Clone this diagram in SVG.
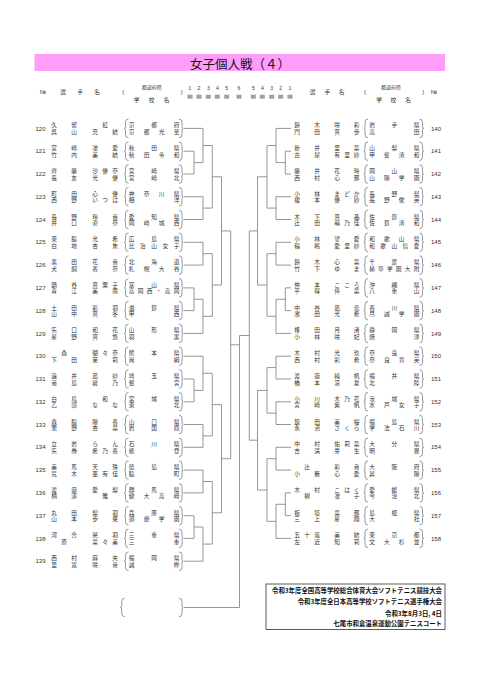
<svg xmlns="http://www.w3.org/2000/svg" xmlns:xlink="http://www.w3.org/1999/xlink" width="480" height="679" viewBox="0 0 480 679">
<style>
.n{font-family:"Liberation Sans","Noto Sans CJK JP","Noto Sans CJK SC",sans-serif;font-size:5.7px;fill:#333;text-anchor:middle}
.hs{font-family:"Liberation Sans","Noto Sans CJK JP","Noto Sans CJK SC",sans-serif;font-size:5px;fill:#333;text-anchor:middle}
.num{font-family:"Liberation Sans",Arial,sans-serif;font-size:6px;fill:#333;text-anchor:middle}
.br{fill:none;stroke:#555;stroke-width:0.6}
.ln{fill:none;stroke:#8a8a8a;stroke-width:0.9}
.ft{font-family:"Noto Sans CJK JP","Noto Sans CJK SC",sans-serif;font-size:6.4px;font-weight:bold;fill:#111;text-anchor:end}
.bx{fill:#a0a0a0}
</style>
<defs>
<path id="lp" class="br" d="M3,-9.3 Q0,-9.3 0,-6 L0,-1.8 Q0,0 -1.2,0 Q0,0 0,1.8 L0,6 Q0,9.3 3,9.3"/>
<path id="rp" class="br" d="M-3,-9.3 Q0,-9.3 0,-6 L0,-1.8 Q0,0 1.2,0 Q0,0 0,1.8 L0,6 Q0,9.3 -3,9.3"/>
</defs>
<rect width="480" height="679" fill="#fff"/>
<g id="title">
<rect x="34.5" y="54" width="410.5" height="17" fill="#ff9dfa"/>
<text x="240" y="68.5" style="font-family:'Noto Sans CJK JP','Noto Sans CJK SC',sans-serif;font-size:12.5px;fill:#111;text-anchor:middle">女子個人戦（４）</text>
</g>
<g id="header">
<text class="num" x="43" y="94">№</text>
<text class="n" x="63 80 97" y="94">選手名</text>
<text class="num" x="123.3" y="94">(</text>
<text class="hs" x="151.7" y="89">都道府県</text>
<text class="n" x="136.7 151.7 166.7" y="102">学校名</text>
<text class="num" x="181.7" y="94">)</text>
<text class="hs" x="190 199 208.3 217.3 226.7 239 253.3 262.3 271.7 280.7 290" y="90">12345654321</text>
<rect class="bx" x="187.5" y="94.7" width="5" height="4"/><rect class="bx" x="196.5" y="94.7" width="5" height="4"/><rect class="bx" x="205.8" y="94.7" width="5" height="4"/><rect class="bx" x="214.8" y="94.7" width="5" height="4"/><rect class="bx" x="224.2" y="94.7" width="5" height="4"/><rect class="bx" x="236.5" y="94.7" width="5" height="4"/><rect class="bx" x="250.8" y="94.7" width="5" height="4"/><rect class="bx" x="259.8" y="94.7" width="5" height="4"/><rect class="bx" x="269.2" y="94.7" width="5" height="4"/><rect class="bx" x="278.2" y="94.7" width="5" height="4"/><rect class="bx" x="287.5" y="94.7" width="5" height="4"/>
<text class="n" x="312.7 327.3 341.7" y="94">選手名</text>
<text class="num" x="365" y="94">(</text>
<text class="hs" x="391" y="89">都道府県</text>
<text class="n" x="379 393.3 408" y="102">学校名</text>
<text class="num" x="423.3" y="94">)</text>
<text class="num" x="434" y="94">№</text>
</g>
<g id="connectors" class="ln">
<path d="M184,128.4H203M184,151.2H194V174H184M194,162.6H203M203,128.4V162.6M203,145.5H212.3M184,196.7H203V219.5H184M203,208.1H212.3M212.3,145.5V208.1M212.3,176.8H221.5M184,242.3H203V265.1H184M203,253.7H212.3M184,287.9H194V310.6H184M194,299.25H203M184,333.4H203V299.25M203,316.3H212.3M212.3,253.7V316.3M212.3,285H221.5M221.5,176.8V285M221.5,230.9H230.7"/>
<path d="M184,356.2H203V390.4M184,379H194V401.8H184M194,390.4H203M203,373.3H212.3M184,424.5H203V447.3H184M203,435.9H212.3M212.3,373.3V435.9M212.3,404.6H221.5M184,470.1H203V492.9H184M203,481.5H212.3M184,515.7H194V538.4H184M194,527.05H203M184,561.2H203V527.05M203,544.1H212.3M212.3,481.5V544.1M212.3,512.8H221.5M221.5,404.6V512.8M221.5,458.7H230.7M230.7,230.9V458.7M230.7,344.8H239.5"/>
<path d="M249.3,335.5H239.5V607.5H184"/>
<path d="M291,128.4H276V162.6M291,151.2H285.3V174H291M285.3,162.6H276M276,145.5H267M291,196.7H276V219.5H291M276,208.1H267M267,145.5V208.1M267,176.8H257.5M291,242.3H276V265.1H291M276,253.7H267M291,287.9H285.3V310.6H291M285.3,299.25H276M291,333.4H276V299.25M276,316.3H267M267,253.7V316.3M267,285H257.5M257.5,176.8V285M257.5,230.9H249.3"/>
<path d="M291,356.2H276V379H291M276,367.6H267M291,401.8H276V424.5H291M276,413.15H267M267,367.6V413.15M267,390.4H257.5M291,447.3H276V470.1H291M276,458.7H267M291,492.9H285.3V515.7H291M285.3,504.3H276M291,538.4H276V504.3M276,521.35H267M267,458.7V521.35M267,490H257.5M257.5,390.4V490M257.5,440.2H249.3M249.3,230.9V440.2"/>
</g>
<g id="p120" transform="translate(0,128.4)"><text class="num" x="40.5" y="2.1">120</text><text class="n" x="54 74 105" y="-1">久留紅</text><text class="n" x="54 74 95 115" y="5.5">呉山充結</text><use href="#lp" x="125.5"/><text class="n" x="131.5 154 176.5" y="-1">京都府</text><text class="n" x="131.5 146.5 161.5 176.5" y="5.5">京都光華</text><use href="#rp" x="182"/></g>
<g id="p121" transform="translate(0,151.2)"><text class="num" x="40.5" y="2.1">121</text><text class="n" x="54 74 95 115" y="-1">宮崎凜愛</text><text class="n" x="54 74 95 115" y="5.5">竹内美結</text><use href="#lp" x="125.5"/><text class="n" x="131.5 154 176.5" y="-1">秋田県</text><text class="n" x="131.5 146.5 161.5 176.5" y="5.5">秋田令和</text><use href="#rp" x="182"/></g>
<g id="p122" transform="translate(0,174)"><text class="num" x="40.5" y="2.1">122</text><text class="n" x="54 74 95 105 115" y="-1">齊藤沙優奈</text><text class="n" x="54 74 95 115" y="5.5">長友光優</text><use href="#lp" x="125.5"/><text class="n" x="131.5 154 176.5" y="-1">宮崎県</text><text class="n" x="131.5 154 176.5" y="5.5">宮崎北</text><use href="#rp" x="182"/></g>
<g id="p123" transform="translate(0,196.7)"><text class="num" x="40.5" y="2.1">123</text><text class="n" x="54 74 95 115" y="-1">町田心優</text><text class="n" x="54 74 95 105 115" y="5.5">西野いつは</text><use href="#lp" x="125.5"/><text class="n" x="131.5 146.5 161.5 176.5" y="-1">神奈川県</text><text class="n" x="131.5 176.5" y="5.5">相洋</text><use href="#rp" x="182"/></g>
<g id="p124" transform="translate(0,219.5)"><text class="num" x="40.5" y="2.1">124</text><text class="n" x="54 74 95 115" y="-1">長野玲音</text><text class="n" x="54 74 95 115" y="5.5">井口姿奈</text><use href="#lp" x="125.5"/><text class="n" x="131.5 154 176.5" y="-1">愛知県</text><text class="n" x="131.5 146.5 161.5 176.5" y="5.5">岡崎城西</text><use href="#rp" x="182"/></g>
<g id="p125" transform="translate(0,242.3)"><text class="num" x="40.5" y="2.1">125</text><text class="n" x="54 74 95 115" y="-1">東脇光希</text><text class="n" x="54 74 95 115" y="5.5">白地杏朱</text><use href="#lp" x="125.5"/><text class="n" x="131.5 154 176.5" y="-1">広島県</text><text class="n" x="131.5 142.75 154 165.25 176.5" y="5.5">比治山女子</text><use href="#rp" x="182"/></g>
<g id="p126" transform="translate(0,265.1)"><text class="num" x="40.5" y="2.1">126</text><text class="n" x="54 74 95 115" y="-1">黒田花音</text><text class="n" x="54 74 95 115" y="5.5">犬飼香奈</text><use href="#lp" x="125.5"/><text class="n" x="131.5 154 176.5" y="-1">北海道</text><text class="n" x="131.5 146.5 161.5 176.5" y="5.5">札幌大谷</text><use href="#rp" x="182"/></g>
<g id="p127" transform="translate(0,287.9)"><text class="num" x="40.5" y="2.1">127</text><text class="n" x="54 74 95 105 115" y="-1">鍋谷真粟子</text><text class="n" x="54 74 95 115" y="5.5">青江美南</text><use href="#lp" x="125.5"/><text class="n" x="131.5 154 176.5" y="-1">富山県</text><text class="n" x="131.5 140.5 149.5 158.5 167.5 176.5" y="5.5">高岡西・高岡</text><use href="#rp" x="182"/></g>
<g id="p128" transform="translate(0,310.6)"><text class="num" x="40.5" y="2.1">128</text><text class="n" x="54 74 95 115" y="-1">土田彩羽</text><text class="n" x="54 74 95 115" y="5.5">山中真冬</text><use href="#lp" x="125.5"/><text class="n" x="131.5 154 176.5" y="-1">滋賀県</text><text class="n" x="131.5 176.5" y="5.5">甲西</text><use href="#rp" x="182"/></g>
<g id="p129" transform="translate(0,333.4)"><text class="num" x="40.5" y="2.1">129</text><text class="n" x="54 74 95 115" y="-1">矢口和花</text><text class="n" x="54 74 95 115" y="5.5">星野真悠</text><use href="#lp" x="125.5"/><text class="n" x="131.5 154 176.5" y="-1">山形県</text><text class="n" x="131.5 176.5" y="5.5">羽黒</text><use href="#rp" x="182"/></g>
<g id="p130" transform="translate(0,356.2)"><text class="num" x="40.5" y="2.1">130</text><text class="n" x="64 95 105 115" y="-1">森瑚々奈</text><text class="n" x="54 74 95 115" y="5.5">下田茉莉</text><use href="#lp" x="125.5"/><text class="n" x="131.5 154 176.5" y="-1">熊本県</text><text class="n" x="131.5 176.5" y="5.5">尚絅</text><use href="#rp" x="182"/></g>
<g id="p131" transform="translate(0,379)"><text class="num" x="40.5" y="2.1">131</text><text class="n" x="54 74 95 115" y="-1">遠井凪紗</text><text class="n" x="54 74 95 115" y="5.5">菊島綾乃</text><use href="#lp" x="125.5"/><text class="n" x="131.5 154 176.5" y="-1">埼玉県</text><text class="n" x="131.5 176.5" y="5.5">鷲宮</text><use href="#rp" x="182"/></g>
<g id="p132" transform="translate(0,401.8)"><text class="num" x="40.5" y="2.1">132</text><text class="n" x="54 74 105" y="-1">白鳥和</text><text class="n" x="54 74 95 115" y="5.5">乙部なな</text><use href="#lp" x="125.5"/><text class="n" x="131.5 154 176.5" y="-1">宮城県</text><text class="n" x="131.5 176.5" y="5.5">東北</text><use href="#rp" x="182"/></g>
<g id="p133" transform="translate(0,424.5)"><text class="num" x="40.5" y="2.1">133</text><text class="n" x="54 74 95 115" y="-1">森脇陽香</text><text class="n" x="54 74 95 115" y="5.5">栗野杏菜</text><use href="#lp" x="125.5"/><text class="n" x="131.5 154 176.5" y="-1">山口県</text><text class="n" x="131.5 154 176.5" y="5.5">岩国商</text><use href="#rp" x="182"/></g>
<g id="p134" transform="translate(0,447.3)"><text class="num" x="40.5" y="2.1">134</text><text class="n" x="54 74 95 115" y="-1">立岩らん</text><text class="n" x="54 74 95 105 115" y="5.5">矢巻希乃香</text><use href="#lp" x="125.5"/><text class="n" x="131.5 154 176.5" y="-1">石川県</text><text class="n" x="131.5 176.5" y="5.5">能登</text><use href="#rp" x="182"/></g>
<g id="p135" transform="translate(0,470.1)"><text class="num" x="40.5" y="2.1">135</text><text class="n" x="54 74 95 115" y="-1">美馬天珠</text><text class="n" x="54 74 95 105 115" y="5.5">荒木亜有佳</text><use href="#lp" x="125.5"/><text class="n" x="131.5 154 176.5" y="-1">徳島県</text><text class="n" x="131.5 176.5" y="5.5">脇町</text><use href="#rp" x="182"/></g>
<g id="p136" transform="translate(0,492.9)"><text class="num" x="40.5" y="2.1">136</text><text class="n" x="54 74 95 115" y="-1">渡邉愛梨</text><text class="n" x="54 74 105" y="5.5">柄澤雅</text><use href="#lp" x="125.5"/><text class="n" x="131.5 154 176.5" y="-1">群馬県</text><text class="n" x="131.5 146.5 161.5 176.5" y="5.5">健大高崎</text><use href="#rp" x="182"/></g>
<g id="p137" transform="translate(0,515.7)"><text class="num" x="40.5" y="2.1">137</text><text class="n" x="54 74 95 115" y="-1">丸田梨羽</text><text class="n" x="54 74 95 115" y="5.5">山本歩果</text><use href="#lp" x="125.5"/><text class="n" x="131.5 154 176.5" y="-1">兵庫県</text><text class="n" x="131.5 146.5 161.5 176.5" y="5.5">須磨学園</text><use href="#rp" x="182"/></g>
<g id="p138" transform="translate(0,538.4)"><text class="num" x="40.5" y="2.1">138</text><text class="n" x="54 74 95 115" y="-1">河合晃羽</text><text class="n" x="64 95 105 115" y="5.5">原菜々美</text><use href="#lp" x="125.5"/><text class="n" x="131.5 154 176.5" y="-1">三重県</text><text class="n" x="131.5 176.5" y="5.5">三重</text><use href="#rp" x="182"/></g>
<g id="p139" transform="translate(0,561.2)"><text class="num" x="40.5" y="2.1">139</text><text class="n" x="54 74 95 115" y="-1">西村麻央</text><text class="n" x="54 74 95 115" y="5.5">里冨咲音</text><use href="#lp" x="125.5"/><text class="n" x="131.5 154 176.5" y="-1">福岡県</text><text class="n" x="131.5 176.5" y="5.5">誠修</text><use href="#rp" x="182"/></g>
<g id="p140" transform="translate(0,128.4)"><text class="n" x="297 317 337 356.5" y="-1">鈴木咲彩</text><text class="n" x="297 317 337 356.5" y="5.5">門田真歩</text><use href="#lp" x="365"/><text class="n" x="372 394.25 416.5" y="-1">岩手県</text><text class="n" x="372 416.5" y="5.5">高田</text><use href="#rp" x="422.5"/><text class="num" x="436" y="2.1">140</text></g>
<g id="p141" transform="translate(0,151.2)"><text class="n" x="297 317 337 356.5" y="-1">新井里菜</text><text class="n" x="297 317 337 347 356.5" y="5.5">古屋有里紗</text><use href="#lp" x="365"/><text class="n" x="372 394.25 416.5" y="-1">山梨県</text><text class="n" x="372 386.8 401.7 416.5" y="5.5">甲斐清和</text><use href="#rp" x="422.5"/><text class="num" x="436" y="2.1">141</text></g>
<g id="p142" transform="translate(0,174)"><text class="n" x="297 317 337 356.5" y="-1">藤井花玲</text><text class="n" x="297 317 337 356.5" y="5.5">西村心那</text><use href="#lp" x="365"/><text class="n" x="372 394.25 416.5" y="-1">岡山県</text><text class="n" x="372 386.8 401.7 416.5" y="5.5">山陽学園</text><use href="#rp" x="422.5"/><text class="num" x="436" y="2.1">142</text></g>
<g id="p143" transform="translate(0,196.7)"><text class="n" x="297 317 337 347 356.5" y="-1">小林まどか</text><text class="n" x="297 317 337 356.5" y="5.5">榎本優紗</text><use href="#lp" x="365"/><text class="n" x="372 394.25 416.5" y="-1">長野県</text><text class="n" x="372 386.8 401.7 416.5" y="5.5">長野俊英</text><use href="#rp" x="422.5"/><text class="num" x="436" y="2.1">143</text></g>
<g id="p144" transform="translate(0,219.5)"><text class="n" x="297 317 337 356.5" y="-1">木下真晶</text><text class="n" x="297 317 337 347 356.5" y="5.5">辻田萌乃佳</text><use href="#lp" x="365"/><text class="n" x="372 394.25 416.5" y="-1">佐賀県</text><text class="n" x="372 386.8 401.7 416.5" y="5.5">佐賀清和</text><use href="#rp" x="422.5"/><text class="num" x="436" y="2.1">144</text></g>
<g id="p145" transform="translate(0,242.3)"><text class="n" x="297 317 337 356.5" y="-1">小林望愛</text><text class="n" x="297 317 337 347 356.5" y="5.5">稲嶋愛里紗</text><use href="#lp" x="365"/><text class="n" x="372 386.8 401.7 416.5" y="-1">和歌山県</text><text class="n" x="372 383.1 394.25 405.4 416.5" y="5.5">和歌山信愛</text><use href="#rp" x="422.5"/><text class="num" x="436" y="2.1">145</text></g>
<g id="p146" transform="translate(0,265.1)"><text class="n" x="297 317 337 356.5" y="-1">鈴木心菜</text><text class="n" x="297 317 337 356.5" y="5.5">竹下ゆま</text><use href="#lp" x="365"/><text class="n" x="372 394.25 416.5" y="-1">千葉県</text><text class="n" x="372 380.9 389.8 398.7 407.6 416.5" y="5.5">植草学園大附</text><use href="#rp" x="422.5"/><text class="num" x="436" y="2.1">146</text></g>
<g id="p147" transform="translate(0,287.9)"><text class="n" x="297 317 337 347 356.5" y="-1">仲本こころ</text><text class="n" x="297 317 337 356.5" y="5.5">平得倖菜</text><use href="#lp" x="365"/><text class="n" x="372 394.25 416.5" y="-1">沖縄県</text><text class="n" x="372 394.25 416.5" y="5.5">八重山</text><use href="#rp" x="422.5"/><text class="num" x="436" y="2.1">147</text></g>
<g id="p148" transform="translate(0,310.6)"><text class="n" x="297 317 337 356.5" y="-1">中谷凪恋</text><text class="n" x="297 317 337 356.5" y="5.5">濱田光希</text><use href="#lp" x="365"/><text class="n" x="372 394.25 416.5" y="-1">香川県</text><text class="n" x="372 386.8 401.7 416.5" y="5.5">尽誠学園</text><use href="#rp" x="422.5"/><text class="num" x="436" y="2.1">148</text></g>
<g id="p149" transform="translate(0,333.4)"><text class="n" x="297 317 337 356.5" y="-1">権田月渚</text><text class="n" x="297 317 337 356.5" y="5.5">小林咲妃</text><use href="#lp" x="365"/><text class="n" x="372 394.25 416.5" y="-1">静岡県</text><text class="n" x="372 416.5" y="5.5">焼津</text><use href="#rp" x="422.5"/><text class="num" x="436" y="2.1">149</text></g>
<g id="p150" transform="translate(0,356.2)"><text class="n" x="297 317 337 356.5" y="-1">木村光玖</text><text class="n" x="297 317 337 356.5" y="5.5">西村彩希</text><use href="#lp" x="365"/><text class="n" x="372 394.25 416.5" y="-1">奈良県</text><text class="n" x="372 386.8 401.7 416.5" y="5.5">奈良育英</text><use href="#rp" x="422.5"/><text class="num" x="436" y="2.1">150</text></g>
<g id="p151" transform="translate(0,379)"><text class="n" x="297 317 337 356.5" y="-1">渡邉純帆</text><text class="n" x="297 317 337 356.5" y="5.5">橋本涼夏</text><use href="#lp" x="365"/><text class="n" x="372 394.25 416.5" y="-1">福井県</text><text class="n" x="372 416.5" y="5.5">北陸</text><use href="#rp" x="422.5"/><text class="num" x="436" y="2.1">151</text></g>
<g id="p152" transform="translate(0,401.8)"><text class="n" x="297 317 337 347 356.5" y="-1">小川木乃花</text><text class="n" x="297 317 337 356.5" y="5.5">宮崎紫帆</text><use href="#lp" x="365"/><text class="n" x="372 394.25 416.5" y="-1">茨城県</text><text class="n" x="372 386.8 401.7 416.5" y="5.5">水戸女子</text><use href="#rp" x="422.5"/><text class="num" x="436" y="2.1">152</text></g>
<g id="p153" transform="translate(0,424.5)"><text class="n" x="297 317 337 356.5" y="-1">鏡田美桜</text><text class="n" x="297 317 337 347 356.5" y="5.5">永沼さくら</text><use href="#lp" x="365"/><text class="n" x="372 394.25 416.5" y="-1">福島県</text><text class="n" x="372 386.8 401.7 416.5" y="5.5">学法石川</text><use href="#rp" x="422.5"/><text class="num" x="436" y="2.1">153</text></g>
<g id="p154" transform="translate(0,447.3)"><text class="n" x="297 317 337 347 356.5" y="-1">中村佑莉菜</text><text class="n" x="297 317 337 356.5" y="5.5">吉満芽生</text><use href="#lp" x="365"/><text class="n" x="372 394.25 416.5" y="-1">大分県</text><text class="n" x="372 416.5" y="5.5">明豊</text><use href="#rp" x="422.5"/><text class="num" x="436" y="2.1">154</text></g>
<g id="p155" transform="translate(0,470.1)"><text class="n" x="307 337 356.5" y="-1">辻彩音</text><text class="n" x="297 317 337 356.5" y="5.5">小籔心愛</text><use href="#lp" x="365"/><text class="n" x="372 394.25 416.5" y="-1">大阪府</text><text class="n" x="372 416.5" y="5.5">昇陽</text><use href="#rp" x="422.5"/><text class="num" x="436" y="2.1">155</text></g>
<g id="p156" transform="translate(0,492.9)"><text class="n" x="297 317 337 347 356.5" y="-1">木村こはく</text><text class="n" x="307 337 356.5" y="5.5">槇凜子</text><use href="#lp" x="365"/><text class="n" x="372 394.25 416.5" y="-1">愛媛県</text><text class="n" x="372 394.25 416.5" y="5.5">今治北</text><use href="#rp" x="422.5"/><text class="num" x="436" y="2.1">156</text></g>
<g id="p157" transform="translate(0,515.7)"><text class="n" x="297 317 337 356.5" y="-1">板垣菜那</text><text class="n" x="297 317 337 356.5" y="5.5">三上星翔</text><use href="#lp" x="365"/><text class="n" x="372 394.25 416.5" y="-1">島根県</text><text class="n" x="372 416.5" y="5.5">大社</text><use href="#rp" x="422.5"/><text class="num" x="436" y="2.1">157</text></g>
<g id="p158" transform="translate(0,538.4)"><text class="n" x="297 307 317 337 356.5" y="-1">五十嵐美結</text><text class="n" x="297 317 337 356.5" y="5.5">左近知莉</text><use href="#lp" x="365"/><text class="n" x="372 394.25 416.5" y="-1">東京都</text><text class="n" x="372 386.8 401.7 416.5" y="5.5">文大杉並</text><use href="#rp" x="422.5"/><text class="num" x="436" y="2.1">158</text></g>
<g id="winner" transform="translate(0,607.5)"><use href="#lp" x="121.7"/><use href="#rp" x="182"/></g>
<g id="footer">
<rect x="266" y="584" width="179" height="45.5" fill="#fff" stroke="#333" stroke-width="0.8"/>
<text class="ft" x="442" y="592.5">令和3年度全国高等学校総合体育大会ソフトテニス競技大会</text>
<text class="ft" x="442" y="604">令和3年度全日本高等学校ソフトテニス選手権大会</text>
<text class="ft" x="442" y="615.6">令和3年8月3日, 4日</text>
<text class="ft" x="442" y="626.3">七尾市和倉温泉運動公園テニスコート</text>
</g>
</svg>
